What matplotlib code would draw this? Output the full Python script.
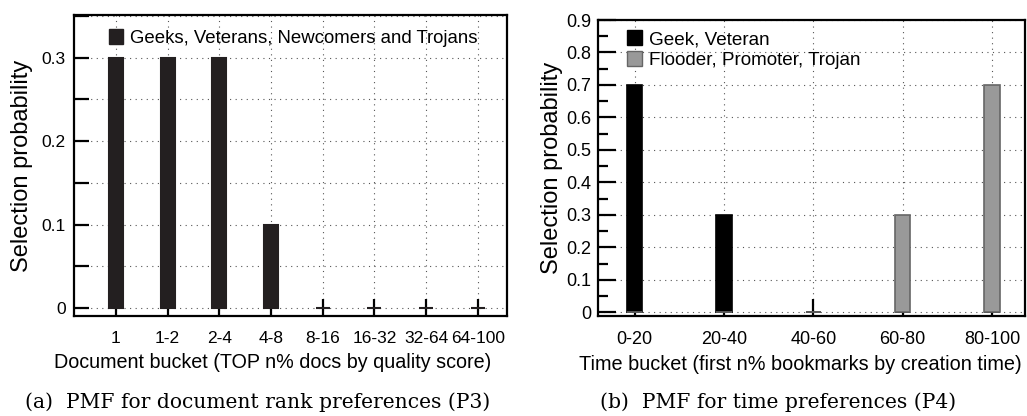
import numpy as np
import matplotlib
matplotlib.use('Agg')
import matplotlib.pyplot as plt
from matplotlib.patches import Patch
from matplotlib.ticker import MultipleLocator

plt.rcParams['font.family'] = ['Liberation Sans', 'DejaVu Sans']

# P3: document rank preferences
rank_buckets = ['1', '1-2', '2-4', '4-8', '8-16', '16-32', '32-64', '64-100']
rank_prob = [0.3, 0.3, 0.3, 0.1, 0.0, 0.0, 0.0, 0.0]
rank_label = 'Geeks, Veterans, Newcomers and Trojans'

# P4: time preferences
time_buckets = ['0-20', '20-40', '40-60', '60-80', '80-100']
time_good = [0.7, 0.3, 0.0, 0.0, 0.0]
time_bad = [0.0, 0.0, 0.0, 0.3, 0.7]
good_label = 'Geek, Veteran'
bad_label = 'Flooder, Promoter, Trojan'

grid_kw = dict(color='#555555', linestyle=(0, (1, 4)), linewidth=0.8)


def style_axes(ax, fs):
    for s in ax.spines.values():
        s.set_linewidth(1.6)
    ax.tick_params(axis='both', which='both', direction='in', top=False, right=False,
                   labelsize=fs, width=1.6, colors='black')
    ax.tick_params(axis='x', length=12, pad=10.5)
    ax.set_axisbelow(True)


fig = plt.figure(figsize=(10.27, 4.16), dpi=100)

# (a) rank buckets
ax1 = fig.add_axes([0.0721, 0.2404, 0.4213, 0.7236])
x1 = np.arange(len(rank_buckets))
ax1.bar(x1, rank_prob, width=0.27, color='#231f20', edgecolor='#231f20', linewidth=1.5, zorder=3)
ax1.set_xlim(-0.81, 7.56)
ax1.set_ylim(-0.0096, 0.351)
ax1.set_xticks(x1)
ax1.set_xticklabels(rank_buckets)
ax1.yaxis.set_minor_locator(MultipleLocator(0.05))
ax1.set_yticks([0, 0.1, 0.2, 0.3])
ax1.set_yticklabels(['0', '0.1', '0.2', '0.3'])
style_axes(ax1, 12.5)
ax1.tick_params(axis='y', which='both', length=11, pad=6)
ax1.grid(True, which='both', axis='y', **grid_kw)
ax1.grid(True, which='major', axis='x', **grid_kw)
ax1.set_ylabel('Selection probability', fontsize=17, labelpad=6)
ax1.set_xlabel('Document bucket (TOP n% docs by quality score)', fontsize=14.2, labelpad=5)
ax1.xaxis.label.set_x(0.46)
ax1.legend(handles=[Patch(facecolor='#231f20', edgecolor='#231f20', label=rank_label)],
           loc='upper left', bbox_to_anchor=(0.05, 0.997), frameon=False, fontsize=13.4,
           handlelength=0.75, handleheight=0.85, handletextpad=0.4, borderaxespad=0.3)

# (b) time buckets
ax2 = fig.add_axes([0.5823, 0.2404, 0.4158, 0.7115])
x2 = np.arange(len(time_buckets))
ax2.bar(x2, time_good, width=0.17, color='black', edgecolor='black', linewidth=1.2, zorder=3)
ax2.bar(x2, time_bad, width=0.17, color='#999999', edgecolor='#666666', linewidth=1.2, zorder=4)
ax2.set_xlim(-0.41, 4.37)
ax2.set_ylim(-0.011, 0.9)
ax2.set_xticks(x2)
ax2.set_xticklabels(time_buckets)
ax2.set_yticks(np.round(np.arange(0, 0.91, 0.1), 1))
ax2.set_yticklabels(['0'] + [f'{v:.1f}' for v in np.arange(0.1, 0.91, 0.1)])
ax2.yaxis.set_minor_locator(MultipleLocator(0.05))
style_axes(ax2, 13)
ax2.tick_params(axis='y', which='major', length=13, pad=5)
ax2.tick_params(axis='y', which='minor', length=7)
ax2.grid(True, which='major', axis='both', **grid_kw)
ax2.set_ylabel('Selection probability', fontsize=17, labelpad=2)
ax2.set_xlabel('Time bucket (first n% bookmarks by creation time)', fontsize=14.3, labelpad=5)
ax2.xaxis.label.set_x(0.473)
ax2.legend(handles=[Patch(facecolor='black', edgecolor='black', label=good_label),
                    Patch(facecolor='#999999', edgecolor='#666666', label=bad_label)],
           loc='upper left', bbox_to_anchor=(0.038, 1.01), frameon=False, fontsize=13.6,
           handlelength=0.75, handleheight=0.85, handletextpad=0.4, borderaxespad=0.3,
           labelspacing=0.15)

# captions
fig.text(0.2512, 0.034, '(a)  PMF for document rank preferences (P3)', ha='center', va='center',
         family='DejaVu Serif', fontsize=14.6)
fig.text(0.7575, 0.034, '(b)  PMF for time preferences (P4)', ha='center', va='center',
         family='DejaVu Serif', fontsize=14.6)

fig.savefig('out.png', dpi=100)
